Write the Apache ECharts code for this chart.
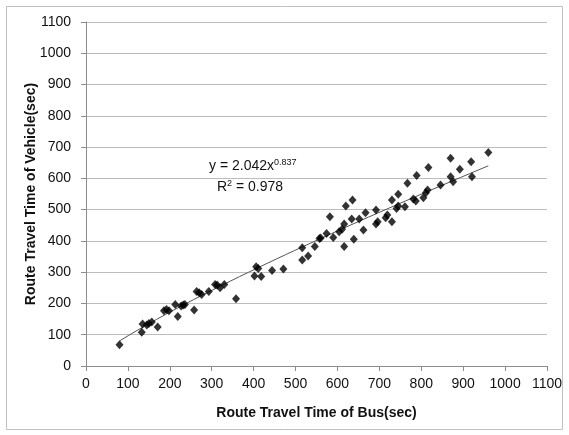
<!DOCTYPE html>
<html>
<head>
<meta charset="utf-8">
<script src="https://cdn.jsdelivr.net/npm/echarts@6/dist/echarts.min.js"></script>
<style>html,body{margin:0;padding:0;background:#fff}#c{width:569px;height:435px}</style>
</head>
<body>
<div id="c"></div>
<script>
const busTime = [80,133,135,145,150,157,171,186,192,198,213,219,227,232,236,258,264,270,276,293,308,313,320,330,358,402,406,411,418,444,471,516,516,530,546,557,560,574,582,590,604,611,616,616,620,634,636,639,652,662,667,692,692,696,715,719,730,730,741,745,745,761,767,781,787,789,805,811,815,817,846,870,870,876,892,919,921,960];
const vehicleTime = [68,108,134,131,136,141,125,177,181,177,197,158,192,195,197,179,238,234,229,238,261,259,250,261,215,288,317,312,286,305,310,378,339,352,382,408,409,424,477,411,429,437,454,382,512,470,531,405,470,435,490,499,454,461,474,483,461,531,504,549,512,509,584,534,528,609,538,554,563,635,579,664,605,589,629,653,605,683];
const xTicks = [0,100,200,300,400,500,600,700,800,900,1000,1100];
const yTicks = [0,100,200,300,400,500,600,700,800,900,1000,1100];
const trendA = 2.042, trendB = 0.837, r2 = 0.978;
const trendRange = [80, 960];

const trend = [];
for (let i = 0; i <= 40; i++) {
  const x = trendRange[0] + (trendRange[1] - trendRange[0]) * i / 40;
  trend.push([x, trendA * Math.pow(x, trendB)]);
}
const pts = busTime.map((x, i) => [x, vehicleTime[i]]);
const FONT = 'Liberation Sans';

const chart = echarts.init(document.getElementById('c'), null, {renderer: 'canvas'});
chart.setOption({
  animation: false,
  backgroundColor: '#fff',
  grid: {left: 86, right: 22, top: 22, bottom: 69},
  xAxis: {
    type: 'value', min: xTicks[0], max: xTicks[xTicks.length-1], interval: 100,
    name: 'Route Travel Time of Bus(sec)', nameLocation: 'middle', nameGap: 40,
    nameTextStyle: {fontFamily: FONT, fontWeight: 'bold', fontSize: 14, color: '#111'},
    axisLine: {show: true, lineStyle: {color: '#8c8c8c'}},
    axisTick: {show: true, length: 5, lineStyle: {color: '#8c8c8c'}},
    axisLabel: {fontFamily: FONT, fontSize: 14, color: '#111', margin: 11, formatter: v => String(v)},
    splitLine: {show: false}
  },
  yAxis: {
    type: 'value', min: yTicks[0], max: yTicks[yTicks.length-1], interval: 100,
    name: 'Route Travel Time of Vehicle(sec)', nameLocation: 'middle', nameGap: 48,
    nameMoveOverlap: false,
    nameTextStyle: {fontFamily: FONT, fontWeight: 'bold', fontSize: 14, color: '#111'},
    axisLine: {show: true, lineStyle: {color: '#8c8c8c'}},
    axisTick: {show: true, length: 5, lineStyle: {color: '#8c8c8c'}},
    axisLabel: {fontFamily: FONT, fontSize: 14, color: '#111', margin: 15, formatter: v => String(v)},
    splitLine: {show: true, lineStyle: {color: '#bdbdbd', width: 1}}
  },
  series: [
    {
      type: 'line', data: trend, showSymbol: false, symbol: 'none',
      lineStyle: {color: '#555', width: 1}, silent: true, z: 2
    },
    {
      type: 'scatter', data: pts, symbol: 'diamond', symbolSize: [8, 9],
      itemStyle: {color: '#000'}, z: 3
    }
  ],
  graphic: [
    {type: 'rect', shape: {x: 6.5, y: 6.5, width: 556, height: 423},
     style: {fill: 'none', stroke: '#c0c0c0', lineWidth: 1}, silent: true, z: -1},
    {type: 'text', left: 209, top: 158, style: {
      rich: {
        b: {fontFamily: FONT, fontSize: 14, fill: '#111'},
        s: {fontFamily: FONT, fontSize: 9, fill: '#111', padding: [0,0,8,0]}
      },
      text: '{b|y = ' + trendA.toFixed(3) + 'x}{s|' + trendB.toFixed(3) + '}'
    }},
    {type: 'text', left: 217, top: 179, style: {
      rich: {
        b: {fontFamily: FONT, fontSize: 14, fill: '#111'},
        s: {fontFamily: FONT, fontSize: 9, fill: '#111', padding: [0,0,8,0]}
      },
      text: '{b|R}{s|2}{b| = ' + r2.toFixed(3) + '}'
    }}
  ]
});
</script>
</body>
</html>
